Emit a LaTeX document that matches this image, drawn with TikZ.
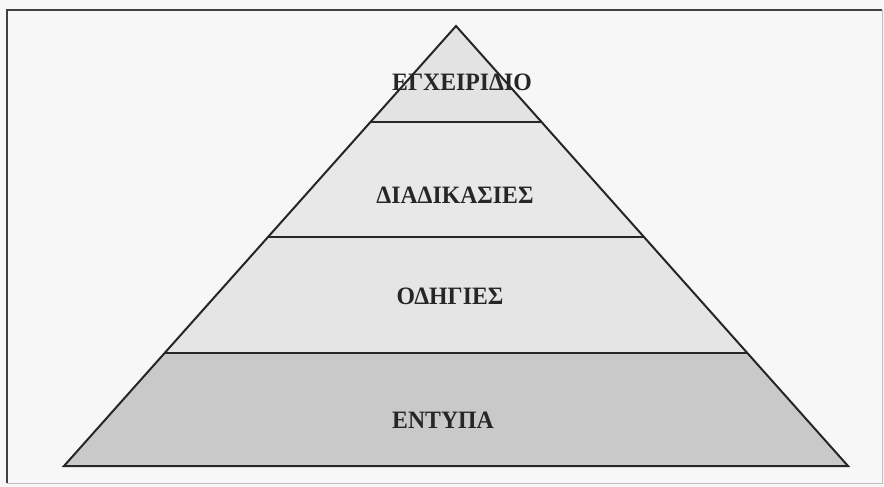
\documentclass[tikz,border=0pt]{standalone}
\usepackage{fontspec}
\setmainfont{Liberation Serif}
\begin{document}
\begin{tikzpicture}[x=1pt,y=-1pt,
  level/.style={draw=black!85,line width=2pt,line join=miter},
  lbl/.style={font=\fontsize{25}{25}\selectfont\bfseries,text=black!85,inner sep=0pt,xscale=0.95}]
\useasboundingbox (0,0) rectangle (884,487);
\fill[black!3] (0,0) rectangle (884,487);
% frame
\draw[black!25,line width=1pt] (882,10) -- (882,483) -- (7,483);
\draw[black!75,line width=2pt] (7,483) -- (7,10) -- (882,10);
% coordinates
\coordinate (A) at (456,26);
\coordinate (L1) at (370.5,122); \coordinate (R1) at (541.5,122);
\coordinate (L2) at (268,237);   \coordinate (R2) at (644,237);
\coordinate (L3) at (164.7,353); \coordinate (R3) at (747.3,353);
\coordinate (L4) at (64,466);    \coordinate (R4) at (848,466);
% fills
\fill[black!11] (A) -- (R1) -- (L1) -- cycle;
\fill[black!9]  (L1) -- (R1) -- (R2) -- (L2) -- cycle;
\fill[black!10] (L2) -- (R2) -- (R3) -- (L3) -- cycle;
\fill[black!21] (L3) -- (R3) -- (R4) -- (L4) -- cycle;
% outlines
\draw[level] (A) -- (R4) -- (L4) -- cycle;
\draw[level] (L1) -- (R1);
\draw[level] (L2) -- (R2);
\draw[level] (L3) -- (R3);
% labels
\node[lbl] (t1) at (462,82) {ΕΓΧΕΙΡΙΔΙΟ};
\node[lbl] (t2) at (455,195) {ΔΙΑΔΙΚΑΣΙΕΣ};
\node[lbl] (t3) at (450,296) {ΟΔΗΓΙΕΣ};
\node[lbl] (t4) at (443,420) {ΕΝΤΥΠΑ};
\end{tikzpicture}
\end{document}
